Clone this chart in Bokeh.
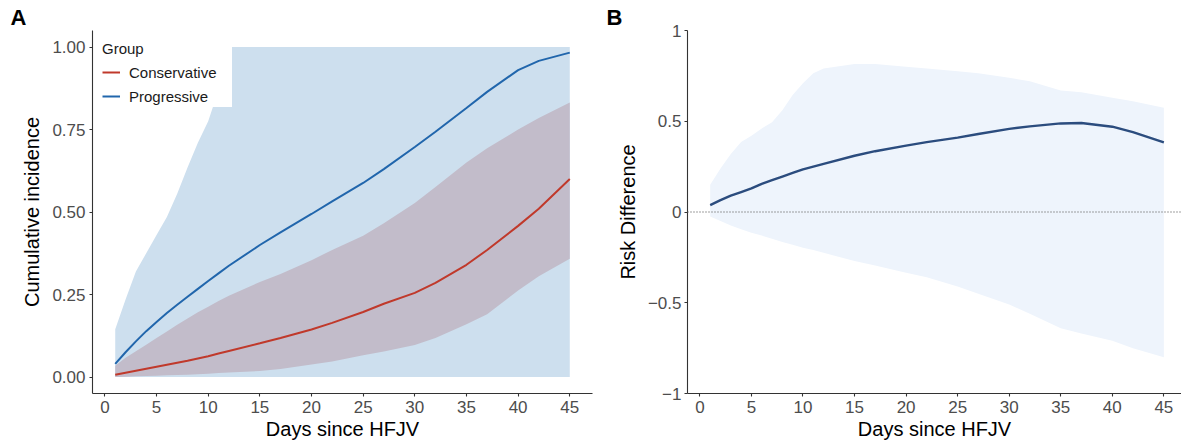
from bokeh.plotting import figure
from bokeh.layouts import row
from bokeh.models import Legend, LegendItem, Span, FixedTicker, Range1d
from bokeh.embed import file_html
from bokeh.resources import INLINE

FONT = "Liberation Sans"

# ---------------- data ----------------
days = [1, 2, 3, 4, 5, 6, 7, 8, 9, 10, 11, 12, 15, 17, 20, 22, 25, 27, 30, 32, 35, 37, 40, 42, 45]

# Panel A: cumulative incidence
prog_est = [0.040, 0.075, 0.108, 0.139, 0.167, 0.194, 0.219, 0.243, 0.267, 0.291, 0.314, 0.337,
            0.400, 0.438, 0.494, 0.532, 0.588, 0.630, 0.697, 0.743, 0.815, 0.864, 0.930, 0.958, 0.983]
prog_lo = [0.0, 0.0, 0.0, 0.0, 0.0, 0.0, 0.0, 0.0, 0.0, 0.0, 0.0, 0.0,
           0.0, 0.0, 0.0, 0.0, 0.0, 0.0, 0.0, 0.0, 0.0, 0.0, 0.0, 0.0, 0.0]
prog_hi = [0.145, 0.235, 0.320, 0.375, 0.430, 0.485, 0.555, 0.635, 0.710, 0.775, 0.870, 1.0,
           1.0, 1.0, 1.0, 1.0, 1.0, 1.0, 1.0, 1.0, 1.0, 1.0, 1.0, 1.0, 1.0]

cons_est = [0.007, 0.013, 0.019, 0.025, 0.031, 0.037, 0.043, 0.049, 0.056, 0.063, 0.071, 0.079,
            0.102, 0.118, 0.144, 0.164, 0.197, 0.222, 0.255, 0.285, 0.340, 0.385, 0.458, 0.510, 0.600]
cons_lo = [0.000, 0.001, 0.002, 0.003, 0.004, 0.005, 0.006, 0.007, 0.008, 0.010, 0.012, 0.014,
           0.018, 0.024, 0.038, 0.047, 0.066, 0.077, 0.097, 0.118, 0.160, 0.190, 0.262, 0.305, 0.358]
cons_hi = [0.034, 0.058, 0.078, 0.098, 0.118, 0.138, 0.158, 0.177, 0.196, 0.213, 0.230, 0.246,
           0.288, 0.312, 0.354, 0.385, 0.428, 0.466, 0.527, 0.576, 0.650, 0.693, 0.750, 0.785, 0.832]

# Panel B: risk difference
rd_est = [0.038, 0.065, 0.090, 0.110, 0.130, 0.155, 0.175, 0.195, 0.215, 0.235, 0.250, 0.265,
          0.310, 0.335, 0.366, 0.385, 0.410, 0.430, 0.458, 0.472, 0.488, 0.490, 0.470, 0.440, 0.384]
rd_hi = [0.150, 0.240, 0.320, 0.385, 0.420, 0.460, 0.495, 0.560, 0.645, 0.710, 0.765, 0.790,
         0.815, 0.815, 0.800, 0.790, 0.776, 0.765, 0.740, 0.720, 0.670, 0.660, 0.630, 0.610, 0.575]
rd_lo = [-0.025, -0.050, -0.075, -0.095, -0.115, -0.130, -0.148, -0.165, -0.180, -0.197, -0.210, -0.225,
         -0.270, -0.295, -0.335, -0.360, -0.410, -0.450, -0.510, -0.560, -0.640, -0.670, -0.710, -0.750, -0.800]

x_ticks = [0, 5, 10, 15, 20, 25, 30, 35, 40, 45]
a_y_ticks = [0.0, 0.25, 0.5, 0.75, 1.0]
a_y_labels = ["0.00", "0.25", "0.50", "0.75", "1.00"]
b_y_ticks = [-1.0, -0.5, 0.0, 0.5, 1.0]
b_y_labels = ["\u22121", "\u22120.5", "0", "0.5", "1"]
group_names = ["Conservative", "Progressive"]


def style(p, xlabel, ylabel, panel_letter, letter_offset):
    p.xgrid.visible = False
    p.ygrid.visible = False
    p.outline_line_color = None
    p.background_fill_color = "white"
    p.border_fill_color = "white"
    for ax in (p.xaxis[0], p.yaxis[0]):
        ax.axis_line_color = "#333333"
        ax.axis_line_width = 1.1
        ax.major_tick_line_color = "#333333"
        ax.major_tick_line_width = 1.1
        ax.major_tick_out = 3
        ax.major_tick_in = 0
        ax.minor_tick_line_color = None
        ax.major_label_text_font = FONT
        ax.major_label_text_font_size = "17px"
        ax.major_label_text_color = "#4D4D4D"
        ax.axis_label_text_font = FONT
        ax.axis_label_text_font_size = "20px"
        ax.axis_label_text_font_style = "normal"
        ax.axis_label_text_color = "black"
    p.xaxis[0].axis_label = xlabel
    p.yaxis[0].axis_label = ylabel
    p.xaxis[0].major_label_standoff = 4
    p.xaxis[0].axis_label_standoff = 2
    p.yaxis[0].major_label_standoff = 4
    p.yaxis[0].axis_label_standoff = 6
    p.xaxis[0].ticker = FixedTicker(ticks=x_ticks)
    p.title.text = panel_letter
    p.title.align = "left"
    p.title.offset = letter_offset
    p.title.standoff = 1
    p.title.text_font = FONT
    p.title.text_font_size = "22px"
    p.title.text_font_style = "bold"
    p.title.text_color = "black"


# ---------------- Panel A ----------------
pa = figure(width=600, height=444, x_range=Range1d(-1.2, 47.2), y_range=Range1d(-0.05, 1.05),
            output_backend="svg", toolbar_location=None,
            min_border_left=92, min_border_right=8, min_border_top=30, min_border_bottom=51)
style(pa, "Days since HFJV", "Cumulative incidence", "A", -82)
pa.yaxis[0].ticker = FixedTicker(ticks=a_y_ticks)
pa.yaxis[0].major_label_overrides = {t: l for t, l in zip(a_y_ticks, a_y_labels)}

pa.varea(x=days, y1=prog_lo, y2=prog_hi, fill_color="#CDDFEE", fill_alpha=1.0)
pa.varea(x=days, y1=cons_lo, y2=cons_hi, fill_color="#C2BCCA", fill_alpha=1.0)
r_cons = pa.line(days, cons_est, line_color="#C0392B", line_width=2)
r_prog = pa.line(days, prog_est, line_color="#2166AC", line_width=2)

legend = Legend(items=[LegendItem(label=group_names[0], renderers=[r_cons]),
                       LegendItem(label=group_names[1], renderers=[r_prog])],
                location="top_left", title="Group")
legend.margin = 10
legend.padding = 0
legend.spacing = 2
legend.glyph_width = 18
legend.glyph_height = 22
legend.label_height = 22
legend.label_width = 103
legend.label_standoff = 9
legend.title_standoff = 4
legend.label_text_font = FONT
legend.label_text_font_size = "15px"
legend.label_text_color = "#1A1A1A"
legend.title_text_font = FONT
legend.title_text_font_size = "15px"
legend.title_text_font_style = "normal"
legend.title_text_color = "#1A1A1A"
legend.background_fill_color = "white"
legend.background_fill_alpha = 1.0
legend.border_line_color = None
pa.add_layout(legend, "center")

# ---------------- Panel B ----------------
pb = figure(width=581, height=444, x_range=Range1d(-1.2, 46.71), y_range=Range1d(-1, 1),
            output_backend="svg", toolbar_location=None,
            min_border_left=87, min_border_right=0, min_border_top=29, min_border_bottom=49)
style(pb, "Days since HFJV", "Risk Difference", "B", -81)
pb.yaxis[0].ticker = FixedTicker(ticks=b_y_ticks)
pb.yaxis[0].major_label_overrides = {t: l for t, l in zip(b_y_ticks, b_y_labels)}
pb.yaxis[0].major_label_standoff = 3
pb.yaxis[0].axis_label_standoff = 6

pb.varea(x=days, y1=rd_lo, y2=rd_hi, fill_color="#EEF4FC", fill_alpha=1.0)
pb.add_layout(Span(location=0, dimension="width", line_color="#808080", line_width=1.4,
                   line_dash="1 2"))
pb.line(days, rd_est, line_color="#2B4C7E", line_width=2.4)

layout = row(pa, pb)
open("out.html", "w").write(file_html(layout, INLINE))
